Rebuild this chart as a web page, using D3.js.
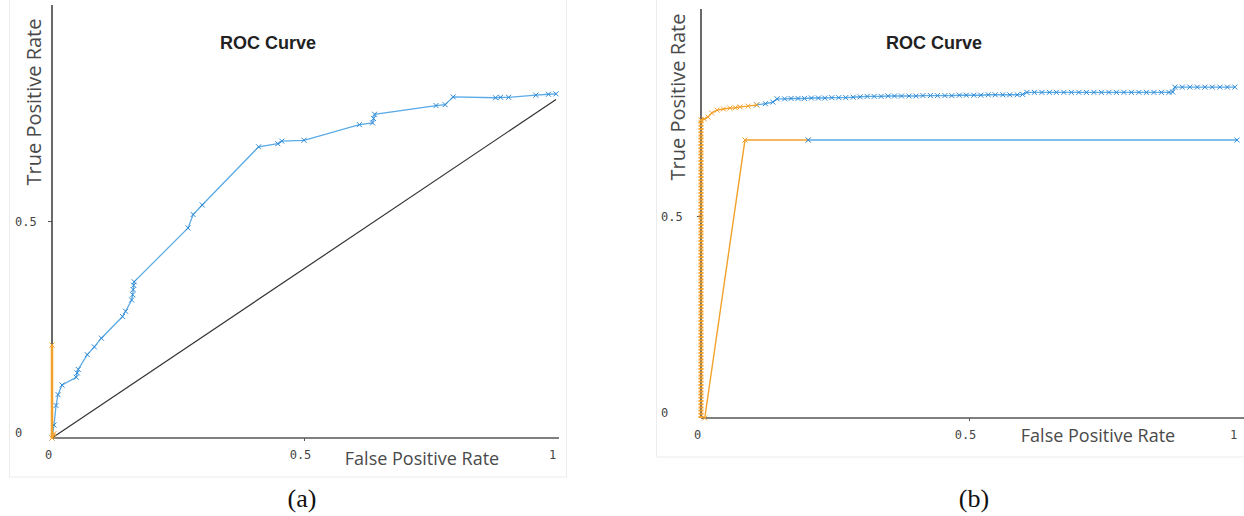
<!DOCTYPE html>
<html>
<head>
<meta charset="utf-8">
<script src="https://cdn.jsdelivr.net/npm/d3@7"></script>
<style>
    body { margin: 0; background: #fff; }
    svg { display: block; }
</style>
</head>
<body>
<svg id="chart" width="1244" height="516"></svg>
<script>
//tick values and labels shared by both panels
const xTicks = [0, 0.5, 1];
const xTickLabels = ["0", "0.5", "1"];
const yTicks = [0, 0.5];
const yTickLabels = ["0", "0.5"];
const panelLabels = ["(a)", "(b)"];

//panel (a) - blue roc curve
const aBlueFpr = [0, 0.004, 0.008, 0.012, 0.02, 0.048, 0.05, 0.052, 0.07, 0.084, 0.098, 0.14, 0.146, 0.158, 0.16, 0.161, 0.162, 0.163,
    0.27, 0.28, 0.298, 0.41, 0.448, 0.456, 0.5, 0.61, 0.636, 0.638, 0.64, 0.762, 0.78, 0.796, 0.88, 0.89, 0.906, 0.96, 0.985, 1];
const aBlueTpr = [0, 0.03, 0.075, 0.1, 0.122, 0.14, 0.15, 0.158, 0.192, 0.21, 0.23, 0.28, 0.292, 0.318, 0.33, 0.342, 0.352, 0.36,
    0.484, 0.515, 0.537, 0.671, 0.678, 0.684, 0.686, 0.722, 0.726, 0.736, 0.746, 0.766, 0.768, 0.786, 0.784, 0.785, 0.785, 0.79, 0.792, 0.793];
//panel (a) - orange part on the axis
const aOrangeFpr = [0, 0, 0.002, 0.004];
const aOrangeTpr = [0.214, 0, 0.005, 0.01];
//panel (a) - reference line
const aRefFpr = [0, 1];
const aRefTpr = [0, 0.78];

//panel (b) - upper curve, orange start
const bTopOrangeFpr = [0, 0, 0.006, 0.013, 0.02, 0.03, 0.042, 0.054, 0.064, 0.073, 0.088, 0.104];
const bTopOrangeTpr = [0, 0.738, 0.74, 0.745, 0.755, 0.762, 0.765, 0.767, 0.768, 0.77, 0.772, 0.775];
//panel (b) - upper curve, blue rest
const bTopBlueFpr = [0.104, 0.12, 0.134, 0.142, 0.156, 0.168, 0.181, 0.193, 0.206, 0.219, 0.231, 0.244, 0.257, 0.27, 0.284, 0.297,
    0.31, 0.323, 0.336, 0.349, 0.361, 0.374, 0.388, 0.401, 0.414, 0.428, 0.441, 0.455, 0.468, 0.482, 0.495, 0.509, 0.522, 0.536,
    0.549, 0.563, 0.576, 0.59, 0.6, 0.608, 0.622, 0.636, 0.65, 0.663, 0.677, 0.691, 0.705, 0.719, 0.733, 0.747, 0.761, 0.775,
    0.789, 0.803, 0.817, 0.831, 0.845, 0.859, 0.873, 0.88, 0.884, 0.898, 0.912, 0.926, 0.94, 0.954, 0.968, 0.982, 0.996];
const bTopBlueTpr = [0.775, 0.778, 0.782, 0.79, 0.79, 0.791, 0.791, 0.791, 0.792, 0.792, 0.792, 0.793, 0.793, 0.793, 0.794, 0.795,
    0.796, 0.796, 0.796, 0.797, 0.797, 0.797, 0.797, 0.797, 0.798, 0.798, 0.798, 0.798, 0.798, 0.799, 0.799, 0.799, 0.799, 0.8,
    0.8, 0.8, 0.8, 0.8, 0.801, 0.806, 0.806, 0.806, 0.806, 0.806, 0.806, 0.806, 0.806, 0.806, 0.806, 0.806, 0.806, 0.806,
    0.806, 0.806, 0.806, 0.806, 0.806, 0.806, 0.806, 0.807, 0.819, 0.819, 0.819, 0.819, 0.819, 0.819, 0.819, 0.819, 0.819];
//panel (b) - lower curve
const bLowOrangeFpr = [0.007, 0.082, 0.2];
const bLowOrangeTpr = [0, 0.688, 0.688];
const bLowBlueFpr = [0.2, 1];
const bLowBlueTpr = [0.688, 0.688];

const svg = d3.select('#chart');

const blueLine = '#5aaae6';
const blueMark = '#2f8ad6';
const orange = '#f2a12a';

function zip(xs, ys) { //turns two arrays into [x, y] pairs
    return xs.map((v, i) => [v, ys[i]]);
}

//layout of each panel (pixels)
const panels = [{
    frame: [9, 0, 557, 478],
    x0: 52, x1: 556, y0: 438, y1: 4, xEnd: 559, yTop: 5,
    title: [268, 49], xTitle: [422, 465], yTitle: [41, 102], label: [302, 507],
    yLabelX: 15,
    series: [
        { data: zip(aRefFpr, aRefTpr), color: '#333', width: 1.2 },
        { data: zip(aBlueFpr, aBlueTpr), color: blueLine, width: 1.3, marks: blueMark },
        { data: zip(aOrangeFpr, aOrangeTpr), color: orange, width: 2.5, marks: orange }
    ]
}, {
    frame: [656, 0, 600, 458],
    x0: 701, x1: 1237, y0: 418, y1: 14, xEnd: 1244, yTop: 9,
    title: [934, 49], xTitle: [1098, 442], yTitle: [685, 97], label: [974, 507],
    yLabelX: 661,
    series: [
        { data: zip(bLowOrangeFpr, bLowOrangeTpr), color: orange, width: 1.4, marks: orange },
        { data: zip(bLowBlueFpr, bLowBlueTpr), color: blueLine, width: 1.4, marks: blueMark },
        { data: zip(bTopBlueFpr, bTopBlueTpr), color: blueLine, width: 1.4, marks: blueMark },
        { data: zip(bTopOrangeFpr, bTopOrangeTpr).slice(1), color: orange, width: 1.4, marks: orange },
        { data: zip(bTopOrangeFpr, bTopOrangeTpr).slice(0, 2), color: orange, width: 5, dash: '2,1.2' }
    ]
}];

panels.forEach((p, i) => drawPanel(p, i));

function drawPanel(p, i) {
    const x = d3.scaleLinear().domain([0, 1]).range([p.x0, p.x1]);
    const y = d3.scaleLinear().domain([0, 1]).range([p.y0, p.y1]);
    const g = svg.append('g');

    //faint frame round the panel
    g.append('rect')
        .attr('x', p.frame[0] + 0.5).attr('y', p.frame[1] - 1)
        .attr('width', p.frame[2]).attr('height', p.frame[3])
        .attr('fill', 'none').attr('stroke', '#ececec');

    //x axis
    const xAxis = g.append('g')
        .attr('transform', 'translate(0,' + p.y0 + ')')
        .call(d3.axisBottom(x).tickValues(xTicks).tickFormat((d, k) => xTickLabels[k]).tickSize(3).tickSizeOuter(0));
    xAxis.select('.domain').remove();
    xAxis.selectAll('.tick line').filter(d => d !== 0.5).remove();
    xAxis.selectAll('.tick line').attr('stroke', '#555');
    xAxis.selectAll('.tick text')
        .attr('y', 12).attr('dx', -4)
        .style('font-family', 'DejaVu Sans Mono').style('font-size', '12px').attr('fill', '#444');

    //y axis
    const yAxis = g.append('g')
        .attr('transform', 'translate(' + p.x0 + ',0)')
        .call(d3.axisLeft(y).tickValues(yTicks).tickFormat((d, k) => yTickLabels[k]).tickSize(4).tickSizeOuter(0));
    yAxis.select('.domain').remove();
    yAxis.selectAll('.tick line').filter(d => d !== 0.5).remove();
    yAxis.selectAll('.tick line').attr('stroke', '#555');
    yAxis.selectAll('.tick text')
        .attr('x', p.yLabelX - p.x0).attr('text-anchor', 'start')
        .attr('dy', d => d === 0 ? '-0.1em' : '0.35em')
        .style('font-family', 'DejaVu Sans Mono').style('font-size', '12px').attr('fill', '#444');

    //axis lines
    g.append('line')
        .attr('x1', p.x0).attr('x2', p.xEnd).attr('y1', p.y0).attr('y2', p.y0)
        .attr('stroke', '#555').attr('stroke-width', 1.6);
    g.append('line')
        .attr('x1', p.x0).attr('x2', p.x0).attr('y1', p.y0).attr('y2', p.yTop)
        .attr('stroke', '#444').attr('stroke-width', 1.6);

    //curves
    const line = d3.line().x(d => x(d[0])).y(d => y(d[1]));
    p.series.forEach(s => {
        g.append('path')
            .datum(s.data)
            .attr('d', line)
            .attr('fill', 'none')
            .attr('stroke', s.color)
            .attr('stroke-width', s.width)
            .attr('stroke-dasharray', s.dash || null);

        if (s.marks) { //small x markers on every point
            g.selectAll(null)
                .data(s.data)
                .enter().append('path')
                .attr('transform', d => 'translate(' + x(d[0]) + ',' + y(d[1]) + ')')
                .attr('d', 'M-2.5,-2.5L2.5,2.5M-2.5,2.5L2.5,-2.5')
                .attr('stroke', s.marks)
                .attr('stroke-width', 1)
                .attr('fill', 'none');
        }
    });

    //texts
    g.append('text')
        .attr('x', p.title[0]).attr('y', p.title[1])
        .attr('text-anchor', 'middle')
        .style('font-family', 'Liberation Sans, Arial').style('font-weight', 'bold').style('font-size', '18px')
        .attr('fill', '#222')
        .text('ROC Curve');

    g.append('text')
        .attr('x', p.xTitle[0]).attr('y', p.xTitle[1])
        .attr('text-anchor', 'middle')
        .style('font-family', 'Open Sans').style('font-size', '18px')
        .attr('fill', '#4a4a4a')
        .text('False Positive Rate');

    g.append('text')
        .attr('transform', 'translate(' + p.yTitle[0] + ',' + p.yTitle[1] + ') rotate(-90)')
        .attr('text-anchor', 'middle')
        .style('font-family', 'Open Sans').style('font-size', '20px')
        .attr('fill', '#4a4a4a')
        .text('True Positive Rate');

    svg.append('text')
        .attr('x', p.label[0]).attr('y', p.label[1])
        .attr('text-anchor', 'middle')
        .style('font-family', 'Liberation Serif').style('font-size', '26px')
        .attr('fill', '#111')
        .text(panelLabels[i]);
}
</script>
</body>
</html>
